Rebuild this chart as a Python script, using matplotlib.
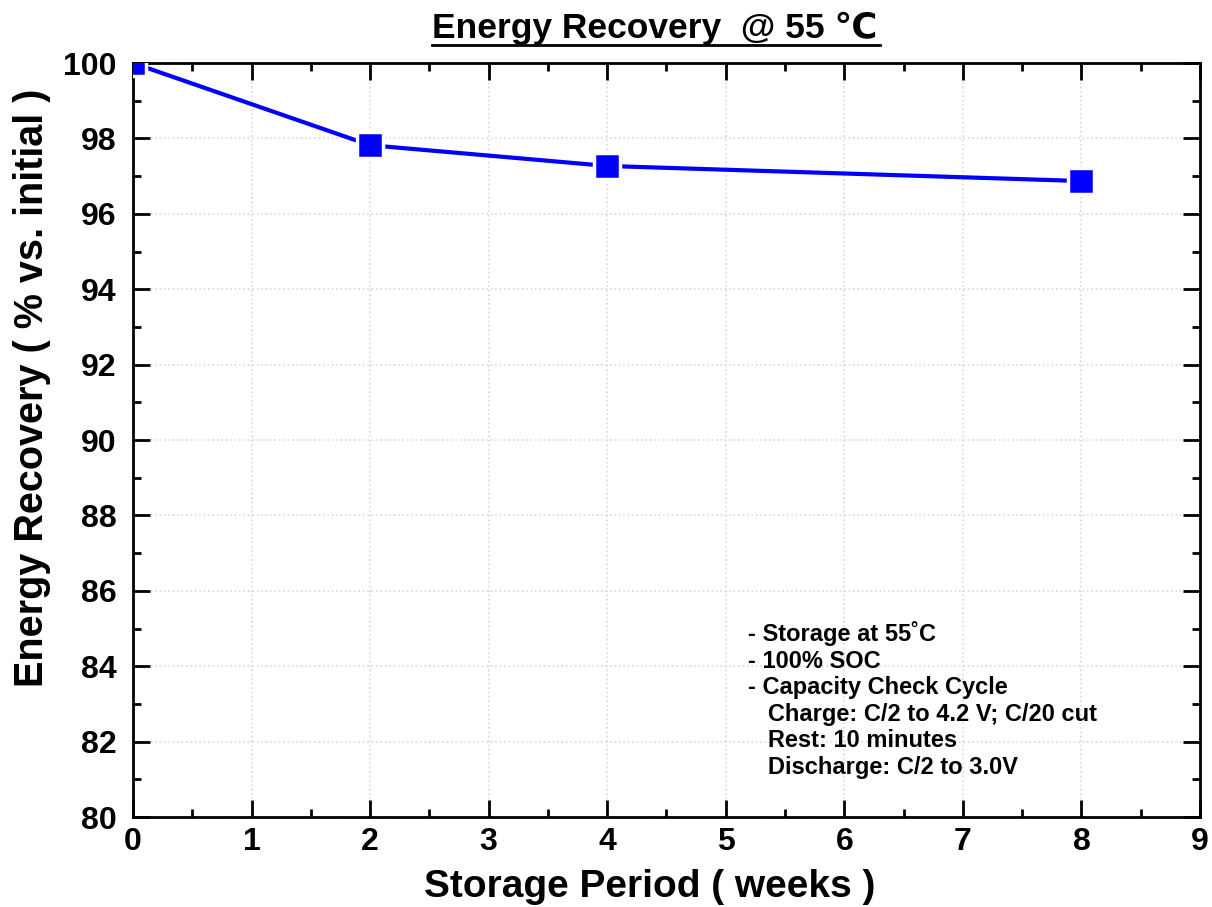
import numpy as np
import matplotlib
matplotlib.use('Agg')
from matplotlib import pyplot as plt
from matplotlib.ticker import MultipleLocator
from matplotlib.lines import Line2D


# Data
weeks    = [0, 2, 4, 8]
recovery = [100.0, 97.82, 97.27, 96.87]

title  = 'Energy Recovery  @ 55 \u2103'
xlabel = 'Storage Period ( weeks )'
ylabel = 'Energy Recovery ( % vs. initial )'
notes  = ['- Storage at 55\u02daC',
          '- 100% SOC',
          '- Capacity Check Cycle',
          '   Charge: C/2 to 4.2 V; C/20 cut',
          '   Rest: 10 minutes',
          '   Discharge: C/2 to 3.0V']


plt.rcParams['font.family'] = ['Liberation Sans', 'DejaVu Sans']
plt.rcParams['font.weight'] = 'bold'

fig = plt.figure(figsize=(12.12, 9.07), dpi=100)
ax  = fig.add_axes([0.1097, 0.0992, 0.8804, 0.8313])

ax.plot(weeks, recovery, color='blue', lw=3, marker='s', ms=19,
        mfc='blue', mec='white', mew=2.5, clip_on=True, zorder=3)

ax.set_xlim(0, 9)
ax.set_ylim(80, 100)
ax.xaxis.set_major_locator(MultipleLocator(1))
ax.xaxis.set_minor_locator(MultipleLocator(0.5))
ax.yaxis.set_major_locator(MultipleLocator(2))
ax.yaxis.set_minor_locator(MultipleLocator(1))
ax.tick_params(which='both', direction='in', top=True, right=True, width=2)
ax.tick_params(which='major', length=12, labelsize=23, pad=7)
ax.tick_params(which='minor', length=6)
ax.tick_params(axis='y', which='major', pad=12)
for lab in ax.get_xticklabels() + ax.get_yticklabels():
    lab.set_fontweight('bold')
for s in ax.spines.values():
    s.set_linewidth(2)
ax.grid(True, which='major', ls=':', color='#d8d8d8', lw=1.2)

ax.set_xlabel(xlabel, fontsize=28, fontweight='bold')
ax.set_ylabel(ylabel, fontsize=28.5, fontweight='bold')
ax.xaxis.set_label_coords(0.4845, -0.0695)
ax.yaxis.set_label_coords(-0.077, 0.569)

ax.text(5.19, 85.2, '\n'.join(notes), fontsize=17, fontweight='bold',
        va='top', ha='left', linespacing=1.2)

fig.text(0.5404, 0.969, title, fontsize=25.5, fontweight='bold',
         ha='center', va='center')
fig.add_artist(Line2D([432/1212, 880/1212], [1-45/907, 1-45/907],
                      color='black', lw=2))

fig.savefig('out.png', dpi=100)
